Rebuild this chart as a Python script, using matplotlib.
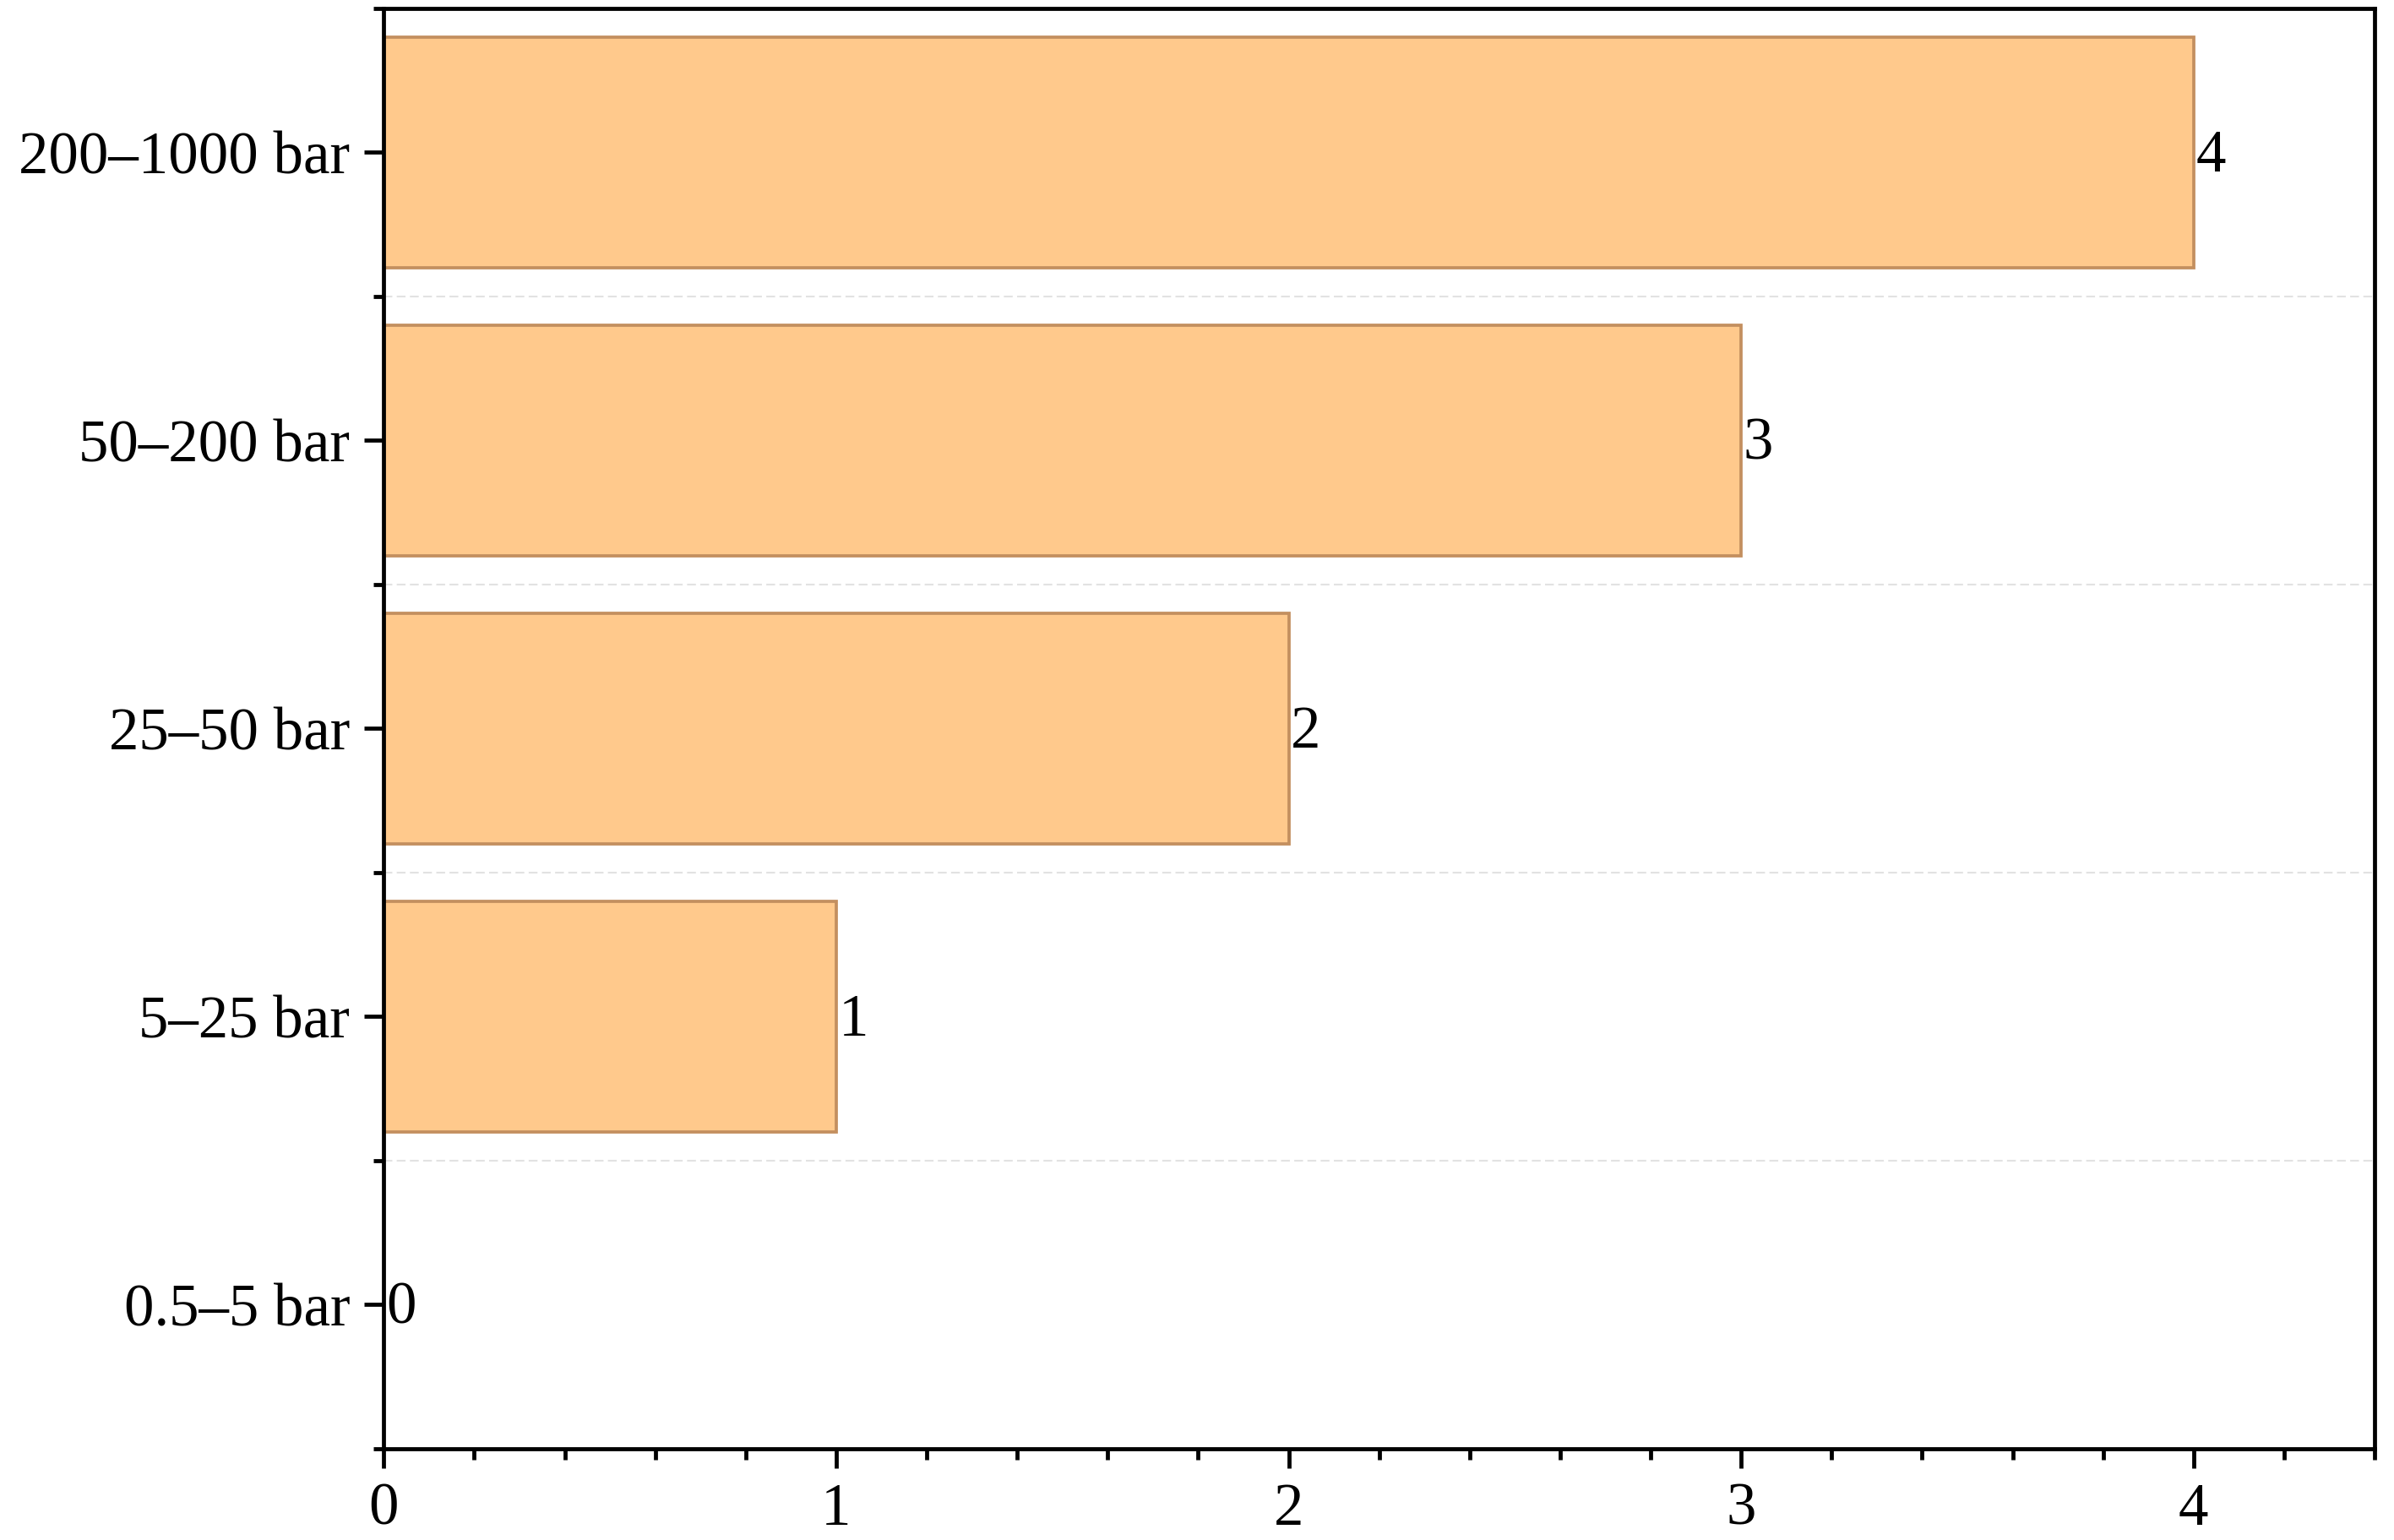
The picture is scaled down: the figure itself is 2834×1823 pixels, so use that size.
import matplotlib
matplotlib.use("Agg")
import matplotlib.pyplot as plt
from matplotlib.ticker import MultipleLocator, FixedLocator

categories = ["0.5–5 bar", "5–25 bar", "25–50 bar", "50–200 bar", "200–1000 bar"]
counts = [0, 1, 2, 3, 4]

plt.rcParams['font.family'] = ['Liberation Serif', 'DejaVu Serif']
plt.rcParams['font.size'] = 17

fig = plt.figure(figsize=(2834/300, 1823/300), dpi=300)
ax = fig.add_axes([0.1603, 0.0594, 0.8316, 0.9351])

ypos = list(range(len(categories)))
ax.barh(ypos, counts, height=0.8, color='#FFC98C', edgecolor='#C38F5F', linewidth=0.9, zorder=2)

for y, v in zip(ypos, counts):
    ax.annotate(str(v), xy=(v, y), xytext=(0.6, -1.2), textcoords='offset points',
                va='center', ha='left', fontsize=17, zorder=4)

ax.set_xlim(0, 4.4)
ax.set_ylim(-0.5, 4.5)
ax.set_yticks(ypos)
ax.set_yticklabels(categories)
ax.yaxis.set_minor_locator(FixedLocator([y - 0.5 for y in ypos] + [len(ypos) - 0.5]))
ax.xaxis.set_major_locator(MultipleLocator(1))
ax.xaxis.set_minor_locator(MultipleLocator(0.2))

ax.tick_params(axis='both', which='major', direction='out', length=5.6, width=1.15, pad=4, labelsize=17)
ax.tick_params(axis='both', which='minor', direction='out', length=3.0, width=1.15)
ax.tick_params(top=False, right=False, which='both')

ax.grid(axis='y', which='minor', color='#e2e2e2', linestyle=(0, (5, 2.5)), linewidth=0.5, zorder=0)
ax.grid(axis='y', which='major', visible=False)
ax.grid(axis='x', visible=False)

for s in ax.spines.values():
    s.set_linewidth(1.15)
    s.set_color('black')

fig.savefig("out.png", dpi=300)
